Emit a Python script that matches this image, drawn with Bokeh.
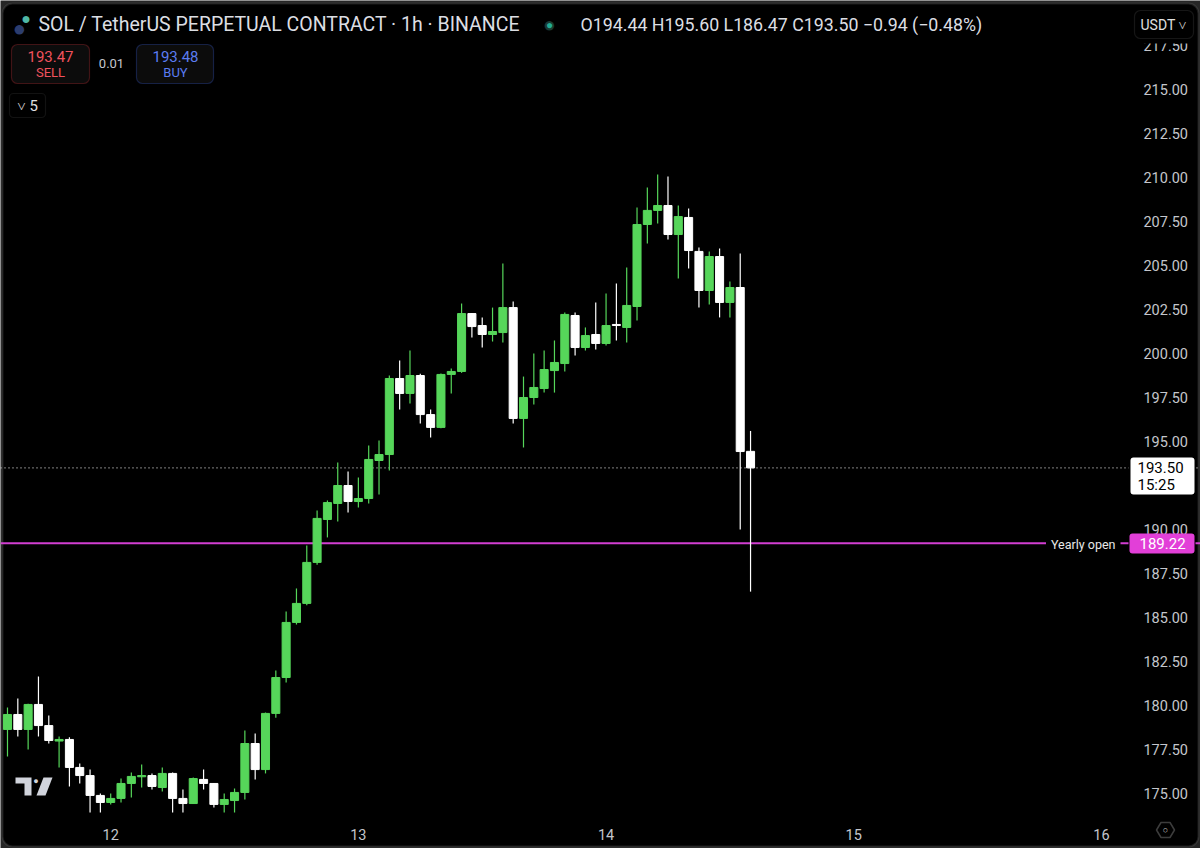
from bokeh.plotting import figure
from bokeh.models import (ColumnDataSource, FixedTicker, NumeralTickFormatter, Span, Label,
                          BoxAnnotation, PolyAnnotation, Range1d)
from bokeh.embed import file_html
from bokeh.resources import INLINE

# ---- data (hourly candles, 11th 14:00 -> 14th 14:00) ----
opens = [178.64, 179.49, 178.64, 180.06, 178.86, 177.98, 178.07, 176.48, 176.02, 174.89,
         174.49, 174.72, 175.57, 175.95, 176.02, 175.34, 176.14, 174.72, 174.43, 175.80,
         175.57, 174.38, 174.60, 175.06, 177.84, 176.36, 179.55, 181.59, 184.72, 185.80,
         188.13, 190.57, 191.48, 192.50, 191.59, 191.76, 193.92, 194.26, 198.58, 197.73,
         198.75, 196.53, 195.80, 198.81, 198.98, 202.27, 201.59, 201.08, 201.19, 202.61,
         196.31, 197.50, 198.01, 199.03, 199.43, 202.16, 200.34, 201.08, 200.57, 201.65,
         201.48, 202.67, 207.33, 208.13, 208.41, 206.76, 207.73, 205.80, 203.58, 205.51,
         202.90, 203.75, 194.44]
highs = [179.89, 180.40, 180.10, 181.65, 179.43, 178.24, 178.20, 176.70, 176.36, 175.00,
         175.00, 175.85, 176.19, 176.65, 176.14, 176.48, 176.20, 175.23, 175.91, 176.36,
         175.60, 175.00, 175.28, 178.58, 178.41, 179.60, 181.99, 185.34, 186.65, 189.09,
         191.08, 191.65, 193.81, 193.30, 192.95, 194.77, 195.06, 198.75, 199.60, 200.17,
         198.85, 196.82, 198.87, 199.15, 202.84, 202.30, 202.05, 202.61, 205.11, 202.95,
         198.69, 200.00, 200.17, 200.74, 202.33, 202.33, 201.48, 202.90, 203.41, 203.98,
         204.89, 208.30, 209.43, 210.17, 210.06, 208.41, 208.24, 206.02, 205.80, 205.97,
         204.09, 205.68, 195.60]
lows = [177.10, 178.24, 177.50, 178.24, 177.84, 176.48, 175.40, 175.57, 173.92, 173.92,
        174.38, 174.49, 174.77, 175.34, 175.23, 175.11, 173.92, 173.92, 174.40, 175.23,
        174.20, 173.92, 173.92, 174.66, 175.80, 176.14, 179.30, 181.30, 184.60, 185.70,
        188.00, 189.55, 190.45, 190.97, 191.25, 191.48, 191.99, 193.35, 196.82, 197.16,
        196.02, 195.23, 195.75, 197.73, 198.90, 200.91, 200.34, 200.68, 200.63, 196.02,
        194.66, 197.10, 197.78, 197.78, 198.98, 199.89, 200.17, 200.23, 200.45, 200.74,
        200.63, 201.88, 206.25, 207.39, 206.48, 204.26, 204.83, 202.61, 202.78, 202.05,
        202.05, 190.00, 186.47]
closes = [179.49, 178.64, 180.06, 178.86, 178.01, 178.07, 176.48, 176.02, 174.89, 174.49,
          174.72, 175.57, 175.97, 176.02, 175.40, 176.14, 174.72, 174.43, 175.85, 175.57,
          174.38, 174.66, 175.06, 177.84, 176.36, 179.55, 181.59, 184.72, 185.80, 188.13,
          190.63, 191.53, 192.50, 191.59, 191.76, 193.98, 194.26, 198.58, 197.73, 198.75,
          196.53, 195.80, 198.81, 198.98, 202.27, 201.53, 201.08, 201.25, 202.61, 196.31,
          197.50, 198.07, 199.09, 199.49, 202.22, 200.34, 201.02, 200.57, 201.59, 201.59,
          202.73, 207.33, 208.13, 208.41, 206.76, 207.78, 205.85, 203.58, 205.51, 202.90,
          203.75, 194.43, 193.50]
hours = list(range(len(opens)))          # hour index from 11th 14:00

day_ticks = [10, 34, 58, 82, 106]
day_labels = ["12", "13", "14", "15", "16"]
price_ticks = [175.0, 177.5, 180.0, 182.5, 185.0, 187.5, 190.0, 192.5, 195.0, 197.5,
               200.0, 202.5, 205.0, 207.5, 210.0, 212.5, 215.0, 217.5]

last_price = 193.50
yearly_open = 189.22

UP = "#56d65a"
DOWN = "#ffffff"
FONT = "Roboto"
W, H = 1200, 848

colors = [UP if c >= o else DOWN for o, c in zip(opens, closes)]
src = ColumnDataSource(dict(x=hours, o=opens, h=highs, l=lows, c=closes, col=colors,
                            top=[max(a, b) for a, b in zip(opens, closes)],
                            bot=[min(a, b) for a, b in zip(opens, closes)]))

p = figure(width=W, height=H, output_backend="svg", toolbar_location=None,
           x_range=Range1d(-0.678, 115.6), y_range=Range1d(171.875, 220.057),
           y_axis_location="right", background_fill_color="#262626", border_fill_color="#262626",
           min_border=0)
p.outline_line_color = None
p.grid.visible = False


def sx(X):
    return X


def sy(Y):
    return H - Y


def box(X0, Y0, X1, Y1, line, fill="black", radius=6, level="annotation", lw=1.2):
    p.add_layout(BoxAnnotation(left=sx(X0), right=sx(X1), top=sy(Y0), bottom=sy(Y1),
                               left_units="screen", right_units="screen",
                               top_units="screen", bottom_units="screen",
                               fill_color=fill, fill_alpha=1 if fill else 0,
                               line_color=line, line_width=lw,
                               border_radius=radius, level=level))


def lab(X, Y, text, size, color, align="left", **kw):
    p.add_layout(Label(x=sx(X), y=sy(Y), x_units="screen", y_units="screen", text=text,
                       text_font=FONT, text_font_size=f"{size}px", text_color=color,
                       text_align=align, text_baseline="middle", level="overlay", **kw))


# window frame
box(2, 3, 1198, 846, "#5c5c5c", fill="black", radius=10, level="image", lw=2)

# horizontal lines
p.add_layout(Span(location=last_price, dimension="width", line_color="white",
                  line_dash="1 3", line_width=1, level="underlay"))
p.add_layout(Span(location=yearly_open, dimension="width", line_color="#d23ed2",
                  line_width=2, level="underlay"))
box(1128, 8, 1195, 842, None, fill="black", radius=0, level="underlay")

# candles
p.segment(x0="x", x1="x", y0="l", y1="h", source=src, line_color="col", line_width=1.2)
p.vbar(x="x", width=0.78, top="top", bottom="bot", source=src, fill_color="col",
       line_color="col", line_width=1)

# axes (drawn at fixed positions over the chart area)
p.yaxis.fixed_location = 108.62
p.xaxis.fixed_location = 173.92
p.yaxis.ticker = FixedTicker(ticks=price_ticks)
p.yaxis.formatter = NumeralTickFormatter(format="0.00")
p.xaxis.ticker = FixedTicker(ticks=day_ticks)
p.xaxis.major_label_overrides = {t: l for t, l in zip(day_ticks, day_labels)}
for ax in (p.xaxis[0], p.yaxis[0]):
    ax.axis_line_color = None
    ax.major_tick_line_color = None
    ax.minor_tick_line_color = None
    ax.major_label_text_color = "#c4c6cc"
    ax.major_label_text_font = FONT
    ax.major_label_text_font_size = "14.5px"
p.yaxis.major_label_standoff = 9
p.xaxis.major_label_standoff = 10

# header strip on the price scale hides the top of the highest label
box(1129, 8, 1195, 43, None, fill="black", radius=0, level="annotation")

# header
lab(25.5, 18, "●", 16, "#4fb8a6", align="center")
lab(19, 28, "●", 22, "#2c3d6e", align="center")
lab(38, 24, "SOL / TetherUS PERPETUAL CONTRACT · 1h · BINANCE", 19.5, "#dcdee3")
lab(549, 24, "●", 22, "#1b3a33", align="center")
lab(549, 24, "●", 12, "#22ab94", align="center")
lab(580, 24, "O194.44  H195.60  L186.47  C193.50  −0.94 (−0.48%)", 17.8, "#dcdee3")

box(11, 44, 89, 83, "#c9343d", fill="#0c0c0c")
lab(50, 56, "193.47", 15, "#f0525d", align="center")
lab(50, 72, "SELL", 13, "#f0525d", align="center")
lab(111, 63, "0.01", 13, "#c4c6cc", align="center")
box(136, 44, 213, 83, "#3a5fd8", fill="#0c0c0c")
lab(175, 56, "193.48", 15, "#5b7cf2", align="center")
lab(175, 72, "BUY", 13, "#5b7cf2", align="center")
box(9, 93, 45, 117, "#3a3a3a", fill="black", radius=4)
lab(27, 105, "˅ 5", 15, "#e0e0e0", align="center")

box(1134, 10, 1193, 38, "#4a4a4a", fill="black", radius=6)
lab(1140, 24, "USDT ˅", 14, "#e0e0e0")

# price tags on the right
lab(1120, 544, "Yearly open", 12.5, "#e8e8e8", align="right",
    background_fill_color="black", padding=5)
box(1129, 533, 1194, 553, None, fill="#e23fd8", radius=3)
lab(1139, 543, "189.22", 15, "white")
box(1130, 457, 1194, 494, None, fill="white", radius=3)
lab(1137, 467, "193.50", 15, "black")
lab(1137, 484, "15:25", 15, "black")

# TradingView logo
p.add_layout(PolyAnnotation(xs=[sx(v) for v in (15, 31, 31, 24, 24, 15)],
                            ys=[sy(v) for v in (777, 777, 795, 795, 783, 783)],
                            xs_units="screen", ys_units="screen", level="overlay",
                            fill_color="#d1d4dc", fill_alpha=1, line_color=None))
p.add_layout(PolyAnnotation(xs=[sx(v) for v in (43, 52, 45, 36)],
                            ys=[sy(v) for v in (777, 777, 795, 795)],
                            xs_units="screen", ys_units="screen", level="overlay",
                            fill_color="#d1d4dc", fill_alpha=1, line_color=None))
lab(35.5, 780, "●", 9, "#d1d4dc", align="center")

# settings icon
p.add_layout(PolyAnnotation(xs=[sx(v) for v in (1156, 1160.5, 1169.5, 1174, 1169.5, 1160.5)],
                            ys=[sy(v) for v in (829.5, 822, 822, 829.5, 837, 837)],
                            xs_units="screen", ys_units="screen", level="overlay",
                            fill_alpha=0, line_color="#c8c8c8", line_width=1.5))
lab(1165, 829.5, "○", 9, "#c8c8c8", align="center")

open("out.html", "w").write(file_html(p, INLINE))
